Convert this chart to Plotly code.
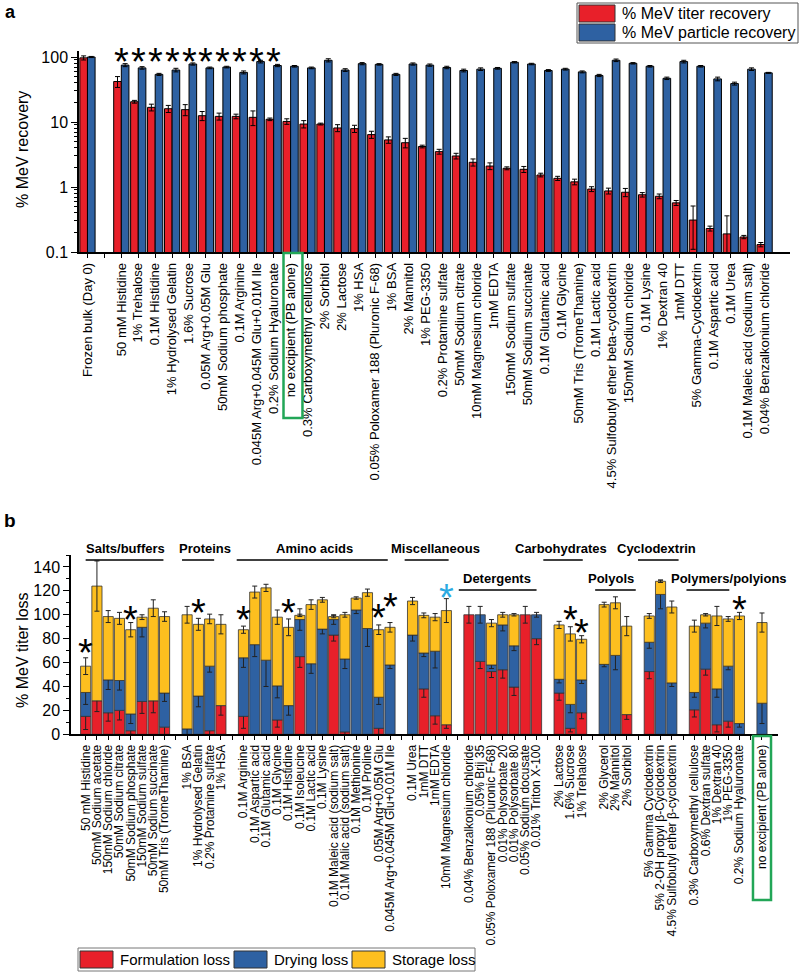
import plotly.graph_objects as go
import numpy as np

W, H = 800, 973
FONT = "Arial, Liberation Sans, sans-serif"
RED, BLUE, YELLOW = "#E8202A", "#2E61A2", "#FDBF1F"
GREEN = "#22A657"

# ---------------- Panel a data ----------------
a_labels = [
    "Frozen bulk (Day 0)", "50 mM Histidine", "1% Trehalose", "0.1M Histidine",
    "1% Hydrolysed Gelatin", "1.6% Sucrose", "0.05M Arg+0.05M Glu",
    "50mM Sodium phosphate", "0.1M Arginine", "0.045M Arg+0.045M Glu+0.01M Ile",
    "0.2% Sodium Hyaluronate", "no excipient (PB alone)", "0.3% Carboxymethyl cellulose",
    "2% Sorbitol", "2% Lactose", "1% HSA", "0.05% Poloxamer 188 (Pluronic F-68)",
    "1% BSA", "2% Mannitol", "1% PEG-3350", "0.2% Protamine sulfate",
    "50mM Sodium citrate", "10mM Magnesium chloride", "1mM EDTA",
    "150mM Sodium sulfate", "50mM Sodium succinate", "0.1M Glutamic acid",
    "0.1M Glycine", "50mM Tris (TromeThamine)", "0.1M Lactic acid",
    "4.5% Sulfobutyl ether beta-cyclodextrin", "150mM Sodium chloride",
    "0.1M Lysine", "1% Dextran 40", "1mM DTT", "5% Gamma-Cyclodextrin",
    "0.1M Aspartic acid", "0.1M Urea", "0.1M Maleic acid (sodium salt)",
    "0.04% Benzalkonium chloride",
]
a_titer = [97, 42, 20.5, 16.8, 16, 15.5, 12.5, 12.2, 12.2, 11.8, 11, 10.2, 9.3, 9.3,
           8.1, 7.9, 6.4, 5.3, 4.8, 4.2, 3.5, 3.0, 2.4, 2.1, 1.94, 1.87, 1.53, 1.36,
           1.2, 0.93, 0.87, 0.83, 0.76, 0.72, 0.57, 0.31, 0.23, 0.19, 0.17, 0.13]
a_titer_err = [7, 8, 1, 2, 2, 3, 2, 1.5, 1, 3, 0.5, 1, 1.2, 0.3, 1, 1, 0.8, 0.6, 0.8,
               0.2, 0.3, 0.3, 0.3, 0.25, 0.1, 0.2, 0.1, 0.1, 0.12, 0.08, 0.09, 0.12,
               0.06, 0.06, 0.05, 0.2, 0.02, 0.17, 0.01, 0.01]
a_particle = [100, 75, 68, 54, 63, 78, 68, 70, 58, 85, 74, 72, 68, 89, 63, 79, 77, 54,
              78, 75, 69, 62, 65, 67, 83, 78, 62, 65, 59, 52, 89, 80, 72, 47, 85, 72,
              46, 39, 65, 57]
a_particle_err = [2, 4, 3, 2, 4, 3, 2, 2, 3, 4, 3, 2, 2, 5, 3, 3, 2, 2, 3, 3, 3, 3, 3,
                  2, 2, 2, 2, 2, 2, 2, 4, 2, 2, 2, 4, 2, 3, 2, 3, 1]
a_starred = a_labels[1:11]

# ---------------- Panel b data ----------------
b_group_names = ["Salts/buffers", "Proteins", "Amino acids", "Miscellaneous",
                 "Detergents", "Carbohydrates", "Polyols", "Cyclodextrin",
                 "Polymers/polyions", ""]
b_group_sizes = [8, 4, 14, 4, 7, 3, 3, 3, 5, 1]
b_labels = [
    "50 mM Histidine", "50mM Sodium acetate", "150mM Sodium chloride",
    "50mM Sodium citrate", "50mM Sodium phosphate", "150mM Sodium sulfate",
    "50mM Sodium succinate", "50mM Tris (TromeThamine)",
    "1% BSA", "1% Hydrolysed Gelatin", "0.2% Protamine sulfate", "1% HSA",
    "0.1M Arginine", "0.1M Aspartic acid", "0.1M Glutamic acid", "0.1M Glycine",
    "0.1M Histidine", "0.1M Isoleucine", "0.1M Lactic acid", "0.1M Lysine",
    "0.1M Maleic acid (sodium salt)", "0.1M Malic acid (sodium salt)",
    "0.1M Methionine", "0.1M Proline", "0.05M Arg+0.05M Glu",
    "0.045M Arg+0.045M Glu+0.01M Ile",
    "0.1M Urea", "1mM DTT", "1mM EDTA", "10mM Magnesium chloride",
    "0.04% Benzalkonium chloride", "0.05% Brij 35",
    "0.05% Poloxamer 188 (Pluronic F-68)", "0.01% Polysorbate 20",
    "0.01% Polysorbate 80", "0.05% Sodium docusate", "0.01% Triton X-100",
    "2% Lactose", "1.6% Sucrose", "1% Trehalose",
    "2% Glycerol", "2% Mannitol", "2% Sorbitol",
    "5% Gamma Cyclodextrin", "5% 2-OH propyl β-Cyclodextrin",
    "4.5% Sulfobutyl ether β-cyclodextrin",
    "0.3% Carboxymethyl cellulose", "0.6% Dextran sulfate", "1% Dextran 40",
    "1% PEG-3350", "0.2% Sodium Hyaluronate",
    "no excipient (PB alone)",
]
b_formulation = [15, 28, 18, 20, 3, 27.5, 28, 6,
                 0, 0, 3, 24,
                 15, 0, 0, 12, 0, 65, 0, 0, 83, 2, 0, 0, 5, 0,
                 0, 38, 15.5, 8,
                 100, 61, 52.5, 54, 39.5, 100, 80,
                 34.5, 5, 18,
                 0, 0, 16.5,
                 52.5, 0, 0,
                 20.5, 54.5, 8, 11, 0,
                 0]
b_drying = [20, 0, 27.5, 25, 14, 62, 0, 28.5,
            4.5, 32, 54, 0,
            49, 75, 62, 28.5, 24, 31, 59, 88, 13, 61, 104, 88.5, 26, 58,
            83, 30, 54, 0,
            0, 39, 5.5, 37.5, 34.5, 0, 20,
            11.5, 20, 27.5,
            58.5, 66, 0,
            24.5, 117, 43,
            14.5, 38.5, 30, 46, 9,
            26]
b_storage = [22, 96, 53, 52, 70.5, 8.5, 77.5, 64,
             95.5, 60, 39.5, 68,
             23.5, 44, 60.5, 57.5, 65.5, 3.5, 49.5, 24.5, 2.5, 37, 10, 30, 56.5, 31.5,
             28.5, 31.5, 28.5, 95.5,
             0, 0, 35, 8.5, 26, 0, 0,
             45.5, 59, 34,
             50, 44, 74,
             22, 11, 63.5,
             55.5, 7, 61, 39.5, 90,
             67.5]
b_formulation_err = [11, 9, 7, 8, 3, 10, 10, 9, 0, 0, 9, 8, 10, 0, 0, 6, 0, 9, 0, 0, 5,
                     7, 0, 0, 9, 0, 0, 7, 7, 3, 7, 6, 5, 7, 7, 7, 5, 6, 3, 5, 0, 0, 4,
                     6, 0, 0, 6, 5, 6, 5, 0, 0]
b_drying_err = [10, 0, 8, 8, 8, 8, 0, 7, 9, 9, 5, 0, 8, 10, 22, 10, 8, 9, 8, 4, 4, 8,
                3, 15, 6, 3, 5, 3, 14, 0, 0, 7, 3, 5, 4, 0, 2, 3, 7, 3, 2, 12, 0, 5,
                12, 3, 4, 4, 7, 3, 3, 17]
b_storage_err = [7, 21, 5, 5, 6, 2, 7, 4, 7, 5, 4, 8, 3, 5, 3, 6, 7, 1, 4, 2, 1, 2, 1,
                 3, 4, 4, 3, 2, 3, 10, 0, 0, 3, 2, 1, 0, 0, 3, 6, 3, 2, 5, 8, 2, 1, 5,
                 5, 1, 8, 2, 3, 8]
b_starred = ["50 mM Histidine", "50mM Sodium phosphate", "1% Hydrolysed Gelatin",
             "0.1M Arginine", "0.1M Histidine", "0.05M Arg+0.05M Glu",
             "0.045M Arg+0.045M Glu+0.01M Ile", "10mM Magnesium chloride",
             "1.6% Sucrose", "1% Trehalose", "0.2% Sodium Hyaluronate"]
b_star_level = [76.5, 104, 110, 104, 110, 106, 115, 122.6, 103.6, 93, 112.6]
b_star_color = ["black"] * 7 + ["#2BAAE2"] + ["black"] * 3


def px(p):
    return p / W


def py(p):
    return 1 - p / H


# ---- category slots (with blank gap slots) ----
a_slots = [a_labels[0], "gap_a"] + a_labels[1:]
a_ticktext = [a_labels[0], ""] + a_labels[1:]

b_slots, b_ticktext, b_group_first, b_group_last = [], [], [], []
i = 0
for g, n in enumerate(b_group_sizes):
    b_group_first.append(len(b_slots))
    for lab in b_labels[i:i + n]:
        b_slots.append(lab)
        b_ticktext.append(lab)
    b_group_last.append(len(b_slots) - 1)
    i += n
    if g < len(b_group_sizes) - 1:
        b_slots.append(f"gap_b{g}")
        b_ticktext.append("")

fig = go.Figure()

err_style = dict(type="data", color="black", thickness=1, width=2.5)

fig.add_trace(go.Bar(
    x=a_labels, y=a_titer, xaxis="x", yaxis="y", offsetgroup="titer",
    name="% MeV titer recovery",
    marker=dict(color=RED, line=dict(color="black", width=1)),
    error_y=dict(array=a_titer_err, **err_style)))
fig.add_trace(go.Bar(
    x=a_labels, y=a_particle, xaxis="x", yaxis="y", offsetgroup="particle",
    name="% MeV particle recovery",
    marker=dict(color=BLUE, line=dict(color="black", width=1)),
    error_y=dict(array=a_particle_err, **err_style)))

fr = np.array(b_formulation, dtype=float)
dr = np.array(b_drying, dtype=float)
st = np.array(b_storage, dtype=float)


def nz(v):
    return [None if x == 0 else x for x in v]


err_b = dict(type="data", color="#222", thickness=1, width=2.5)
fig.add_trace(go.Bar(
    x=b_labels, y=nz(fr), base=np.zeros_like(fr), xaxis="x2", yaxis="y2",
    offsetgroup="loss", name="Formulation loss",
    marker=dict(color=RED, line=dict(color="#333", width=0.8)),
    error_y=dict(array=b_formulation_err, **err_b)))
fig.add_trace(go.Bar(
    x=b_labels, y=nz(dr), base=fr, xaxis="x2", yaxis="y2",
    offsetgroup="loss", name="Drying loss",
    marker=dict(color=BLUE, line=dict(color="#333", width=0.8)),
    error_y=dict(array=b_drying_err, **err_b)))
fig.add_trace(go.Bar(
    x=b_labels, y=nz(st), base=fr + dr, xaxis="x2", yaxis="y2",
    offsetgroup="loss", name="Storage loss",
    marker=dict(color=YELLOW, line=dict(color="#333", width=0.8)),
    error_y=dict(array=b_storage_err, **err_b)))

axis_common = dict(showline=True, linecolor="black", linewidth=1.5, showgrid=False,
                   zeroline=False, automargin=False, ticks="outside",
                   tickcolor="black", tickwidth=1)

minor_log = [k * 10.0 ** d for d in (-1, 0, 1) for k in range(2, 10)]

fig.update_layout(
    width=W, height=H, template="none",
    paper_bgcolor="white", plot_bgcolor="rgba(0,0,0,0)",
    margin=dict(l=0, r=0, t=0, b=0, pad=0),
    barmode="group", bargap=0.1, bargroupgap=0,
    font=dict(family=FONT, color="black"),
    showlegend=False,
    xaxis=dict(domain=[px(79), px(790)], anchor="y", type="category",
               categoryorder="array", categoryarray=a_slots,
               tickmode="array", tickvals=a_slots, ticktext=a_ticktext,
               tickangle=-90, range=[-0.5, len(a_slots) + 0.5], ticklen=4,
               tickfont=dict(size=13), **axis_common),
    yaxis=dict(domain=[py(252), py(50.5)], anchor="x", type="log", range=[-1, 2.1],
               tickmode="array", tickvals=[0.1, 1, 10, 100],
               ticktext=["0.1", "1", "10", "100"], ticklen=6,
               tickfont=dict(size=16),
               minor=dict(tickvals=minor_log, ticks="outside", ticklen=3,
                          tickcolor="black"),
               **axis_common),
    xaxis2=dict(domain=[px(71), px(778)], anchor="y2", type="category",
                categoryorder="array", categoryarray=b_slots,
                tickmode="array", tickvals=b_slots, ticktext=b_ticktext,
                tickangle=-90, range=[-1.3, len(b_slots) + 0.42], ticklen=4,
                tickfont=dict(size=12), **axis_common),
    yaxis2=dict(domain=[py(734.3), py(555)], anchor="x2", range=[0, 150],
                tickmode="array", tickvals=list(range(0, 141, 20)), ticklen=6,
                tickfont=dict(size=16),
                minor=dict(dtick=10, ticks="outside", ticklen=3, tickcolor="black"),
                **axis_common),
)

ann = []
shapes = []


def note(text, x, y, xref="paper", yref="paper", size=16, xanchor="center",
         color="black", **kw):
    ann.append(dict(text=text, x=x, y=y, xref=xref, yref=yref, showarrow=False,
                    xanchor=xanchor, yanchor="middle",
                    font=dict(size=size, color=color), **kw))


# panel letters and y titles
note("<b>a</b>", px(10), py(12), size=18)
note("<b>b</b>", px(10), py(520), size=19)
note("% MeV recovery", px(22), py(150), textangle=-90)
note("% MeV titer loss", px(22), py(650), textangle=-90)

# asterisks panel a
for lab in a_starred:
    note("*", lab, np.log10(119), xref="x", yref="y", size=38, yshift=-10)
# asterisks panel b
for lab, lv, col in zip(b_starred, b_star_level, b_star_color):
    note("*", lab, lv, xref="x2", yref="y2", size=38, color=col, yshift=-10)

# group labels panel b
row_of_group = [0, 0, 0, 0, 1, 0, 1, 0, 1]
text_shift = [0, 0.1, -0.2, 0.5, -0.5, -0.8, -0.4, -0.4, 1.1]
line_span = [(0.0, -0.1), (-0.45, -0.6), (-0.6, -0.2), (-0.7, 0.2), (-0.9, 0.0),
             (-1.4, 0.1), (-0.8, 0.8), (-1.0, 0.6), (-0.7, -0.9)]
for g, name in enumerate(b_group_names[:-1]):
    f, l = b_group_first[g], b_group_last[g]
    r = row_of_group[g]
    ty = py(548) if r == 0 else py(578)
    ly = py(560) if r == 0 else py(590)
    note(f"<b>{name}</b>", (f + l) / 2 + text_shift[g], ty, xref="x2", size=13)
    shapes.append(dict(type="line", xref="x2", yref="paper",
                       x0=f + line_span[g][0], x1=l + line_span[g][1], y0=ly, y1=ly,
                       line=dict(color="black", width=1.5)))

# green boxes around the control label
ia = a_slots.index("no excipient (PB alone)")
shapes.append(dict(type="rect", xref="x", yref="paper", x0=ia - 0.42, x1=ia + 0.7,
                   y0=py(418), y1=py(253), line=dict(color=GREEN, width=2.5)))
ib = b_slots.index("no excipient (PB alone)")
shapes.append(dict(type="rect", xref="x2", yref="paper", x0=ib - 0.8, x1=ib + 0.8,
                   y0=py(900), y1=py(736), line=dict(color=GREEN, width=2.5)))

# legend panel a (manual, large swatches)
shapes.append(dict(type="rect", xref="paper", yref="paper", x0=px(577), x1=px(798),
                   y0=py(43), y1=py(3), line=dict(color="#555", width=1)))
for k, (col, txt) in enumerate([(RED, "% MeV titer recovery"),
                                (BLUE, "% MeV particle recovery")]):
    top = 5 + k * 19
    shapes.append(dict(type="rect", xref="paper", yref="paper", x0=px(579),
                       x1=px(615), y0=py(top + 17), y1=py(top), fillcolor=col,
                       line=dict(color="#333", width=1)))
    note(txt, px(620), py(top + 8.5), xanchor="left", size=16)

# legend panel b
shapes.append(dict(type="rect", xref="paper", yref="paper", x0=px(78), x1=px(475),
                   y0=py(971), y1=py(948), line=dict(color="#777", width=1)))
for col, txt, x0, tx in [(RED, "Formulation loss", 80, 118),
                         (BLUE, "Drying loss", 234, 272),
                         (YELLOW, "Storage loss", 352, 390)]:
    shapes.append(dict(type="rect", xref="paper", yref="paper", x0=px(x0),
                       x1=px(x0 + 33), y0=py(968), y1=py(951), fillcolor=col,
                       line=dict(color="#333", width=1)))
    note(txt, px(tx), py(959.5), xanchor="left", size=15)

fig.update_layout(annotations=ann, shapes=shapes)
# remove the browser's default 8px body margin so the figure fills the window
fig.write_html("out.html", config={"displayModeBar": False},
               post_script="document.body.style.margin='0px';")
